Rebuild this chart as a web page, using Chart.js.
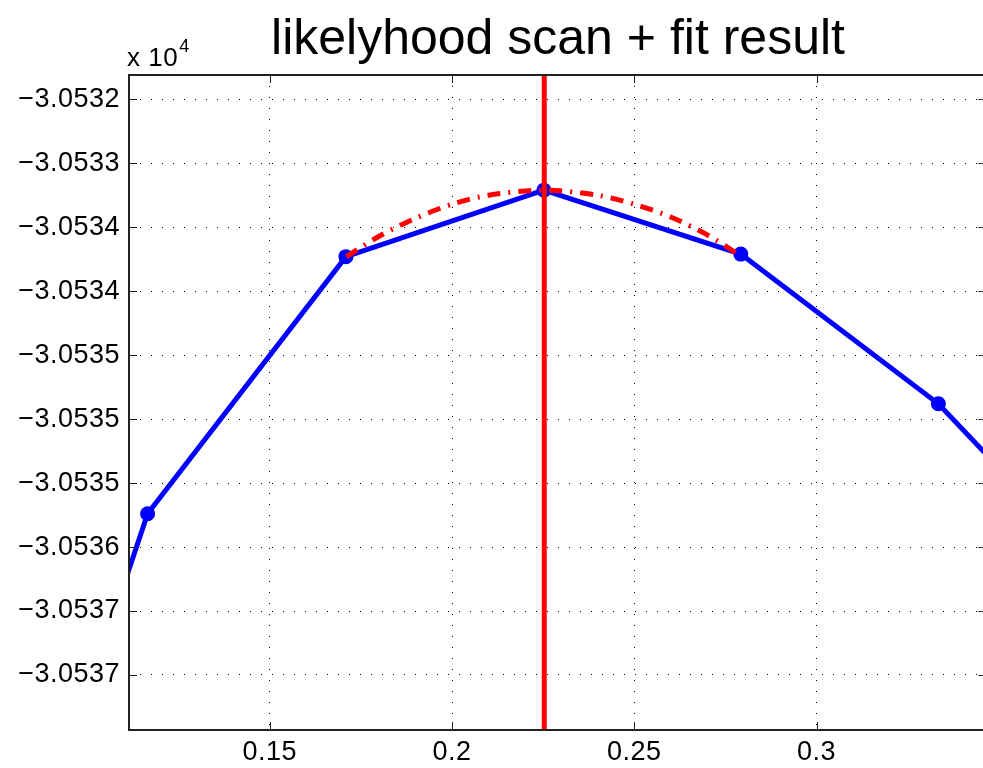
<!DOCTYPE html>
<html>
<head>
<meta charset="utf-8">
<title>likelyhood scan + fit result</title>
<script src="https://cdn.jsdelivr.net/npm/chart.js@4.4.1/dist/chart.umd.min.js"></script>
<style>
  html, body { margin: 0; padding: 0; background: #fff; overflow: hidden; }
  #scanChart { display: block; }
</style>
</head>
<body>
<canvas id="scanChart" width="994" height="768"></canvas>
<script>
// scan points: parameter value vs log-likelihood
const scanX = [0.0623, 0.1165, 0.1709, 0.2252, 0.2792, 0.3334, 0.3876];
const scanY = [-30539.85, -30535.24, -30533.23, -30532.71, -30533.21, -30534.38, -30536.01];

// fitted curve around the maximum
const fitX = [0.171, 0.180, 0.190, 0.200, 0.210, 0.2253, 0.240, 0.250, 0.260, 0.270, 0.279];
const fitY = [-30533.23, -30533.07, -30532.93, -30532.82, -30532.75, -30532.71, -30532.75, -30532.82, -30532.92, -30533.06, -30533.22];
const fitPeak = 0.2253;

// axis ticks
const yTicks = [-30532, -30532.5, -30533, -30533.5, -30534, -30534.5, -30535, -30535.5, -30536, -30536.5];
const yTickLabels = ['\u22123.0532', '\u22123.0533', '\u22123.0534', '\u22123.0534', '\u22123.0535',
                     '\u22123.0535', '\u22123.0535', '\u22123.0536', '\u22123.0537', '\u22123.0537'];
const xTicks = [0.15, 0.2, 0.25, 0.3];
const xTickLabels = ['0.15', '0.2', '0.25', '0.3'];

const xMin = 0.1114, xMax = 0.3466;
const yMin = -30536.93, yMax = -30531.81;

const FONT = "'Liberation Sans', Arial, Helvetica, sans-serif";

function toPoints(xs, ys) {
    return xs.map((x, i) => ({ x: x, y: ys[i] }));
}

// title, exponent label, axes box and inward tick marks
const matlabFrame = {
    id: 'matlabFrame',
    beforeDraw(chart) {
        chart.ctx.letterSpacing = '0.5px';
    },
    afterDraw(chart) {
        const ctx = chart.ctx;
        const a = chart.chartArea;
        const xs = chart.scales.x;
        const ys = chart.scales.y;
        ctx.save();
        ctx.strokeStyle = '#222';
        ctx.lineWidth = 1;
        ctx.setLineDash([]);
        ctx.beginPath();
        yTicks.forEach(v => {
            const p = Math.round(ys.getPixelForValue(v)) + 0.5;
            ctx.moveTo(a.left, p); ctx.lineTo(a.left + 8, p);
            ctx.moveTo(a.right, p); ctx.lineTo(a.right - 8, p);
        });
        xTicks.forEach(v => {
            const p = Math.round(xs.getPixelForValue(v)) + 0.5;
            ctx.moveTo(p, a.bottom); ctx.lineTo(p, a.bottom - 8);
            ctx.moveTo(p, a.top); ctx.lineTo(p, a.top + 8);
        });
        ctx.stroke();

        ctx.lineWidth = 2;
        ctx.strokeStyle = '#222';
        ctx.strokeRect(a.left, a.top, a.right - a.left, a.bottom - a.top);

        ctx.fillStyle = '#000';
        ctx.letterSpacing = '0px';
        ctx.textAlign = 'center';
        ctx.textBaseline = 'alphabetic';
        ctx.font = '50px ' + FONT;
        ctx.fillText('likelyhood scan + fit result', 558, 54);

        ctx.textAlign = 'left';
        ctx.letterSpacing = '0.5px';
        ctx.font = '26px ' + FONT;
        ctx.fillText('x 10', 127, 66);
        const w = ctx.measureText('x 10').width;
        ctx.font = '18px ' + FONT;
        ctx.fillText('4', 127 + w + 1, 52);
        ctx.restore();
    }
};

const chart = new Chart(document.getElementById('scanChart').getContext('2d'), {
    type: 'line',
    data: {
        datasets: [
            {
                label: 'maximum',
                data: [{ x: fitPeak, y: yMin }, { x: fitPeak, y: yMax }],
                borderColor: '#ff0000',
                borderWidth: 5,
                pointRadius: 0,
                clip: 0
            },
            {
                label: 'fit',
                data: toPoints(fitX, fitY),
                borderColor: '#ff0000',
                borderWidth: 5,
                borderDash: [13, 8, 2, 8],
                borderCapStyle: 'butt',
                tension: 0.3,
                pointRadius: 0,
                clip: 0
            },
            {
                label: 'scan',
                data: toPoints(scanX, scanY),
                borderColor: '#0000ff',
                backgroundColor: '#0000ff',
                borderWidth: 5,
                pointRadius: 7.5,
                pointBorderWidth: 0,
                pointBackgroundColor: '#0000ff',
                tension: 0,
                clip: 0
            }
        ]
    },
    options: {
        responsive: false,
        animation: false,
        layout: { padding: { top: 75, right: 0, left: 0, bottom: 0 } },
        plugins: {
            legend: { display: false },
            tooltip: { enabled: false },
            title: { display: false }
        },
        scales: {
            x: {
                type: 'linear',
                min: xMin,
                max: xMax,
                afterFit(scale) { scale.height = 38; },
                afterBuildTicks(scale) {
                    scale.ticks = xTicks.map(v => ({ value: v }));
                },
                ticks: {
                    autoSkip: false,
                    maxRotation: 0,
                    padding: 6,
                    color: '#000',
                    font: { family: FONT, size: 27 },
                    callback: (value) => xTickLabels[xTicks.indexOf(value)]
                },
                grid: { color: '#000', lineWidth: 1, drawTicks: false },
                border: { display: false, dash: [1, 10] }
            },
            y: {
                type: 'linear',
                min: yMin,
                max: yMax,
                afterFit(scale) { scale.width = 129; },
                afterBuildTicks(scale) {
                    scale.ticks = yTicks.slice().sort((p, q) => p - q).map(v => ({ value: v }));
                },
                ticks: {
                    autoSkip: false,
                    padding: 9,
                    color: '#000',
                    font: { family: FONT, size: 27 },
                    callback: (value) => yTickLabels[yTicks.indexOf(value)]
                },
                grid: { color: '#000', lineWidth: 1, drawTicks: false },
                border: { display: false, dash: [1, 10] }
            }
        }
    },
    plugins: [matlabFrame]
});
</script>
</body>
</html>
